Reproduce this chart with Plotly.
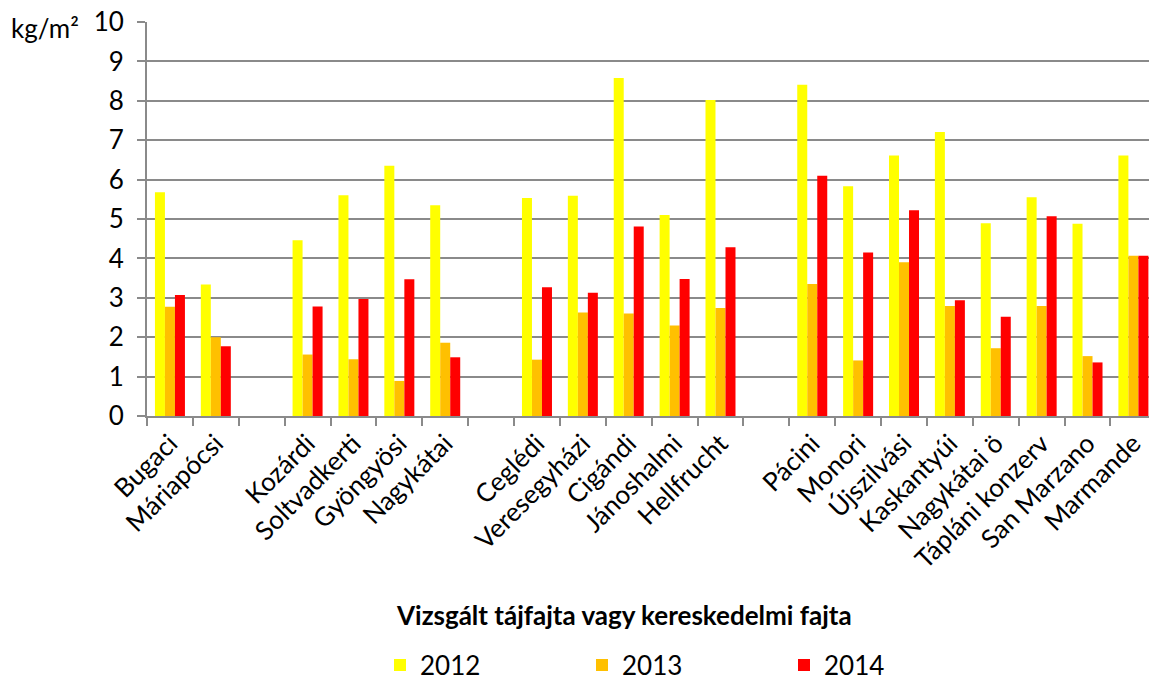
import plotly.graph_objects as go

categories = ["Bugaci", "Máriapócsi", " ", "Kozárdi", "Soltvadkerti", "Gyöngyösi", "Nagykátai", "  ",
              "Ceglédi", "Veresegyházi", "Cigándi", "Jánoshalmi", "Hellfrucht", "   ",
              "Pácini", "Monori", "Újszilvási", "Kaskantyúi", "Nagykátai ö", "Tápláni konzerv",
              "San Marzano", "Marmande"]

y2012 = [5.68, 3.34, None, 4.46, 5.60, 6.35, 5.35, None,
         5.53, 5.59, 8.58, 5.10, 8.02, None,
         8.41, 5.83, 6.61, 7.21, 4.89, 5.55, 4.88, 6.61]
y2013 = [2.77, 2.00, None, 1.56, 1.44, 0.89, 1.86, None,
         1.43, 2.63, 2.60, 2.30, 2.74, None,
         3.35, 1.41, 3.90, 2.79, 1.72, 2.79, 1.52, 4.07]
y2014 = [3.07, 1.77, None, 2.78, 2.97, 3.47, 1.49, None,
         3.27, 3.13, 4.81, 3.48, 4.28, None,
         6.10, 4.15, 5.22, 2.94, 2.52, 5.07, 1.36, 4.07]

series_names = ["2012", "2013", "2014"]
series_colors = ["#FFFF00", "#FFC000", "#FF0000"]

FONT = "Lato"
FS = 26
GRID = "#8A8A8A"

# body margin is removed in the page, so figure coordinates = reference pixels
L, T, PW, PH = 147, 22, 1002, 394
W, H = 1149, 681


def px(xr):
    return (xr - L) / PW


def py(yr):
    return 1 - (yr - T) / PH


fig = go.Figure()
for name, vals, col in zip(series_names, [y2012, y2013, y2014], series_colors):
    fig.add_trace(go.Bar(name=name, x=categories, y=vals, marker=dict(color=col, line=dict(width=0))))

fig.update_layout(
    width=W, height=H,
    margin=dict(l=L, r=W - L - PW, t=T, b=H - T - PH, pad=0, autoexpand=False),
    paper_bgcolor="white", plot_bgcolor="white",
    barmode="group", bargap=0.346, bargroupgap=0,
    font=dict(family=FONT, size=FS, color="black"),
    showlegend=True,
    legend=dict(orientation="h", x=px(380), xanchor="left", y=py(665), yanchor="middle",
                entrywidth=157, entrywidthmode="pixels", font=dict(size=FS, family=FONT),
                traceorder="normal", itemclick=False, borderwidth=0),
    xaxis=dict(type="category", categoryorder="array", categoryarray=categories,
               range=[-0.5, 21.34], tickangle=-45, tickson="boundaries",
               ticks="outside", ticklen=8, tickwidth=2, tickcolor=GRID,
               showline=True, linecolor=GRID, linewidth=2, showgrid=False,
               tickfont=dict(size=FS, family=FONT), automargin=False, ticklabeloverflow="allow"),
    yaxis=dict(range=[0, 10], dtick=1, tick0=0, showgrid=True, gridcolor=GRID, gridwidth=2,
               ticks="outside", ticklen=8, tickwidth=2, tickcolor=GRID,
               showline=True, linecolor=GRID, linewidth=2, zeroline=False,
               tickfont=dict(size=FS, family=FONT), ticklabelstandoff=8, automargin=False,
               ticklabeloverflow="allow"),
    annotations=[
        dict(text="kg/m²", xref="paper", yref="paper", x=px(45), y=py(28), xanchor="center",
             yanchor="middle", showarrow=False, font=dict(size=FS, family=FONT)),
        dict(text="<b>Vizsgált tájfajta vagy kereskedelmi fajta</b>", xref="paper", yref="paper",
             x=px(624), y=py(615), xanchor="center", yanchor="middle",
             showarrow=False, font=dict(size=FS, family=FONT)),
    ],
)

fig.write_html("out.html", config={"displayModeBar": False},
               post_script="document.body.style.margin='0';document.body.style.overflow='hidden';")
